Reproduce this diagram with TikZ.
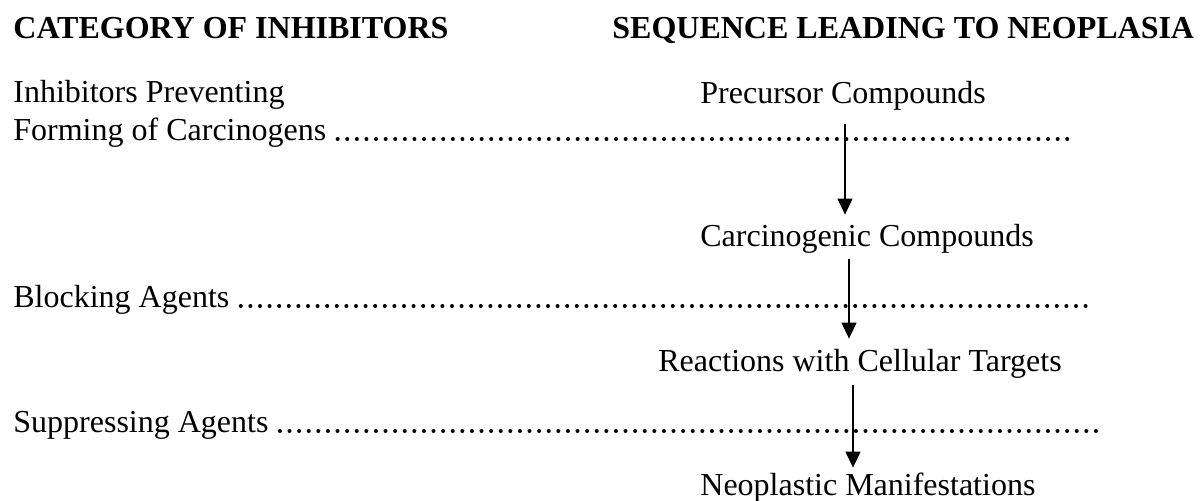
\documentclass[tikz,border=0pt]{standalone}
\usepackage{fontspec}
\setmainfont{Liberation Serif}
\usetikzlibrary{arrows.meta}
\tikzset{
  lbl/.style={anchor=base west, inner sep=0pt, font=\fontsize{16}{19}\selectfont,
    text height=11pt, text depth=4pt},
  head/.style={lbl, font=\fontsize{16}{19}\selectfont\bfseries},
  leader/.style={line width=2pt, line cap=round, dash pattern=on 0pt off 4.8pt},
  flow/.style={-{Triangle[length=8pt,width=7.5pt]}, line width=0.6pt},
}
\begin{document}
\begin{tikzpicture}[x=0.5pt,y=-0.5pt]
\useasboundingbox (0,0) rectangle (1201,501);
% headings
\node[head] (cat) at (13,39) {CATEGORY OF INHIBITORS};
\node[head] (seq) at (612,39) {SEQUENCE LEADING TO NEOPLASIA};
% left column
\node[lbl] (prev) at (13,103) {Inhibitors Preventing};
\node[lbl] (form) at (13,141) {Forming of Carcinogens};
\node[lbl] (block) at (13,308) {Blocking Agents};
\node[lbl] (supp) at (13,433) {Suppressing Agents};
% right column
\node[lbl] (prec) at (700,104) {Precursor Compounds};
\node[lbl] (carc) at (700,247) {Carcinogenic Compounds};
\node[lbl] (react) at (658,372) {Reactions with Cellular Targets};
\node[lbl] (neo) at (700,496) {Neoplastic Manifestations};
% dotted leaders
\coordinate (l1) at (1075,139);
\coordinate (l2) at (1088,306);
\coordinate (l3) at (1097,431);
\draw[leader] ([xshift=5.5pt,yshift=1pt]form.base east) -- (l1);
\draw[leader] ([xshift=5.5pt,yshift=1pt]block.base east) -- (l2);
\draw[leader] ([xshift=5.5pt,yshift=1pt]supp.base east) -- (l3);
% sequence arrows
\coordinate (x1) at (845,0);
\coordinate (x2) at (849,0);
\coordinate (x3) at (853,0);
\draw[flow, shorten <=6pt, shorten >=5pt] (x1 |- prec.south) -- (x1 |- carc.north);
\draw[flow, shorten <=2pt, shorten >=5.5pt] (x2 |- carc.south) -- (x2 |- react.north);
\draw[flow, shorten <=2.5pt, shorten >=3pt] (x3 |- react.south) -- (x3 |- neo.north);
\end{tikzpicture}
\end{document}
